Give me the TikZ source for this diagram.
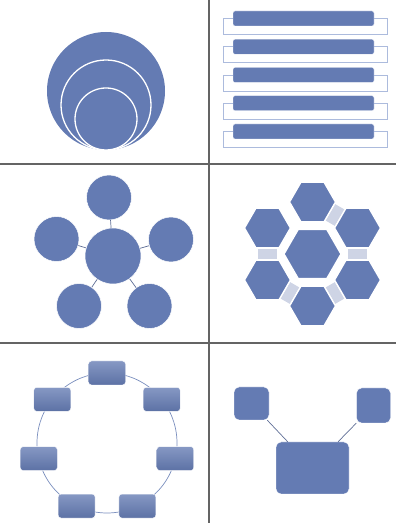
\documentclass[tikz,border=0pt]{standalone}
\usetikzlibrary{shapes.geometric, calc, backgrounds}

\definecolor{smartblue}{RGB}{100,123,179}
\definecolor{paleblue}{RGB}{172,187,221}
\definecolor{hexlinkgray}{RGB}{206,212,229}
\definecolor{rulegray}{RGB}{100,100,100}
\definecolor{spokeslate}{RGB}{95,110,150}

\begin{document}
\begin{tikzpicture}[
    x=1pt, y=1pt,
    divider/.style={rulegray, line width=1.1pt},
    disc/.style={circle, fill=smartblue, inner sep=0pt},
    ring/.style={circle, fill=smartblue, draw=white, line width=1.3pt, inner sep=0pt},
    bar/.style={rectangle, rounded corners=2pt, fill=smartblue, draw=white, line width=0.3pt,
        minimum width=141, minimum height=15, inner sep=0pt},
    bracket/.style={paleblue, line width=0.7pt},
    petal/.style={circle, fill=smartblue, draw=white, line width=0.5pt, inner sep=0pt, minimum size=45},
    spoke/.style={spokeslate, line width=0.7pt},
    hexa/.style={regular polygon, regular polygon sides=6, fill=smartblue, draw=white,
        line width=1.4pt, inner sep=0pt, minimum size=46},
    hexlink/.style={hexlinkgray, line width=19pt},
    ringbox/.style={rectangle, rounded corners=3pt, top color=smartblue!78!white,
        bottom color=smartblue!92!black, draw=white, line width=0.4pt,
        minimum width=37, minimum height=24, inner sep=0pt},
    ringline/.style={smartblue!85!white, line width=0.7pt},
    squarebox/.style={rectangle, rounded corners=5pt, fill=smartblue, draw=white,
        line width=0.4pt, inner sep=0pt},
]
\useasboundingbox (0,0) rectangle (396,523);

% =============================================================================
% Grid of six panels
% =============================================================================
\draw[divider] (209,0) -- (209,523);
\draw[divider] (0,359) -- (396,359);
\draw[divider] (0,180) -- (396,180);

% =============================================================================
% Panel 1: nested circles
% =============================================================================
\node[disc, minimum size=118] (outer) at (106,432) {};
\node[ring, minimum size=90] (middle) at (106,418) {};
\node[ring, minimum size=62] (inner) at (106,404) {};

% =============================================================================
% Panel 2: stacked bars with brackets
% =============================================================================
\foreach \y [count=\i] in {504.5, 476.25, 448, 419.75, 391.5} {
    \node[bar] (bar\i) at (303.5,\y) {};
    \draw[bracket] (bar\i.west) -- ++(-10,0) -- ++(0,-16) -- ++(164,0) -- ++(0,16)
        -- (bar\i.east);
}

% =============================================================================
% Panel 3: hub and five petals
% =============================================================================
\node[petal, minimum size=56] (hub) at (113,267) {};
\node[petal] (ptop) at (109,325.5) {};
\node[petal] (pleft) at (56.5,284) {};
\node[petal] (pright) at (171,283.5) {};
\node[petal] (pbl) at (79,217) {};
\node[petal] (pbr) at (149.5,217) {};

% --- Spokes ---
\foreach \p in {ptop, pleft, pright, pbl, pbr} {
    \draw[spoke] (hub) -- (\p);
}

% =============================================================================
% Panel 4: hexagon cluster
% =============================================================================
\coordinate (hc) at (312.5,269);
\node[hexa, minimum size=57] (hcenter) at (hc) {};
\node[hexa] (htop) at ($(hc)+(90:52)$) {};
\node[hexa] (hur) at ($(hc)+(30:52)$) {};
\node[hexa] (hlr) at ($(hc)+(-30:52)$) {};
\node[hexa] (hbot) at ($(hc)+(-90:52)$) {};
\node[hexa] (hll) at ($(hc)+(-150:52)$) {};
\node[hexa] (hul) at ($(hc)+(150:52)$) {};

% --- Links between outer hexagons ---
\begin{scope}[on background layer]
    \draw[hexlink] (hul) -- (hll);
    \draw[hexlink] (hll) -- (hbot);
    \draw[hexlink] (hbot) -- (hlr);
    \draw[hexlink] (hlr) -- (hur);
    \draw[hexlink] (hur) -- (htop);
\end{scope}

% =============================================================================
% Panel 5: boxes on a ring
% =============================================================================
\coordinate (ringc) at (107,80);
\draw[ringline] (ringc) circle[radius=70];
\foreach \i in {0,...,6} {
    \node[ringbox] (rb\i) at ($(ringc)+({90-\i*360/7}:70)$) {};
}

% =============================================================================
% Panel 6: two squares feeding a box
% =============================================================================
\node[squarebox, minimum width=35, minimum height=33] (sqleft) at (251.5,119.5) {};
\node[squarebox, minimum width=34, minimum height=35] (sqright) at (373.5,117.5) {};
\node[squarebox, minimum width=73, minimum height=52] (bigbox) at (312.5,55) {};

\draw[spoke] (sqleft) -- (bigbox);
\draw[spoke] (sqright) -- (bigbox);

\end{tikzpicture}
\end{document}
